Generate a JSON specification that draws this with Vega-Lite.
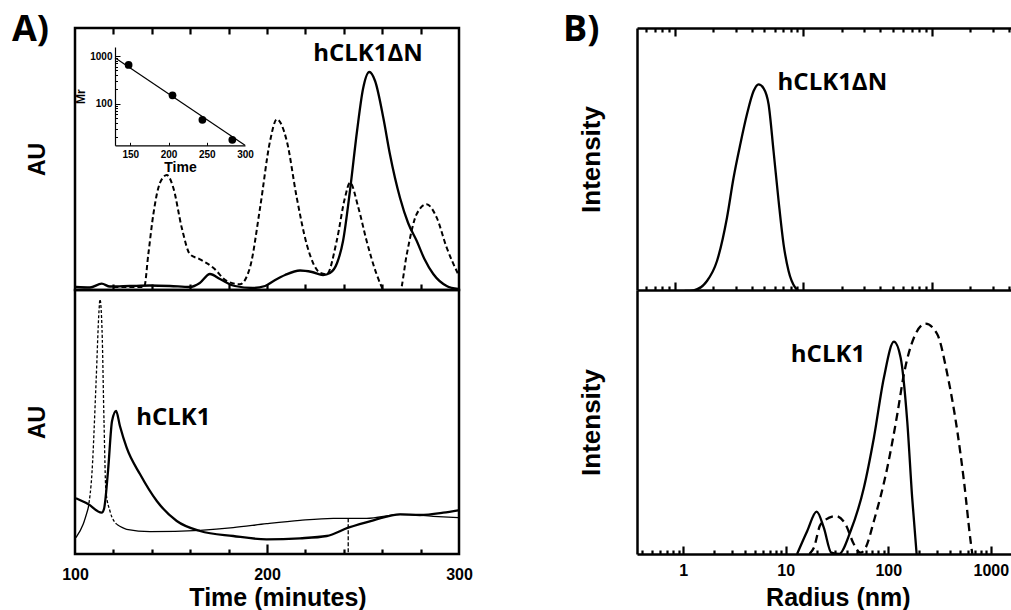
{
  "$schema": "https://vega.github.io/schema/vega-lite/v6.json",
  "background": "white",
  "padding": {"left": 10, "top": 10, "right": 0, "bottom": 0},
  "columns": 2,
  "spacing": {"row": 0, "column": 178},
  "bounds": "flush",
  "config": {
    "view": {"stroke": null},
    "axis": {
      "grid": false, "labelFlush": false, "labelOverlap": false,
      "labelFont": "Liberation Sans", "labelFontWeight": "bold", "labelColor": "black",
      "titleFont": "Liberation Sans", "titleFontWeight": "bold", "titleColor": "black",
      "tickColor": "black", "tickOpacity": 1, "domainColor": "black", "tickWidth": 2.2, "domainWidth": 2.5
    }
  },
  "datasets": {
    "aTopSolid": [
      {"t":100.5,"v":2},{"t":107.8,"v":1.5},{"t":113.9,"v":5.3},{"t":118.2,"v":2.5},{"t":128.6,"v":3},{"t":139,"v":3.5},{"t":149.5,"v":3},{"t":159.9,"v":2},{"t":165,"v":6},{"t":170.3,"v":15},{"t":175.5,"v":10},{"t":183.3,"v":3},{"t":192.7,"v":1},{"t":199,"v":3},{"t":203,"v":7.5},{"t":209.4,"v":14},{"t":217.2,"v":18.5},{"t":223.4,"v":17},{"t":229.2,"v":14},{"t":232.8,"v":16},{"t":236.5,"v":26},{"t":239.6,"v":48},{"t":243.2,"v":98},{"t":246.9,"v":158},{"t":250,"v":200},{"t":253.3,"v":217},{"t":256.3,"v":208},{"t":260.6,"v":171},{"t":264,"v":135},{"t":269.3,"v":91},{"t":273.5,"v":66},{"t":278,"v":48},{"t":282,"v":30},{"t":286.6,"v":15},{"t":293.6,"v":3},{"t":299.5,"v":0}
    ],
    "aTopDash": [
      {"t":120,"v":2},{"t":128.6,"v":2},{"t":136,"v":2},{"t":138.2,"v":35},{"t":140.8,"v":74.7},{"t":144.3,"v":106.3},{"t":147.8,"v":114},{"t":151.2,"v":101.3},{"t":155.6,"v":61.3},{"t":159.9,"v":34.7},{"t":165.1,"v":29.7},{"t":172,"v":21.3},{"t":179,"v":8},{"t":185.9,"v":4.7},{"t":191.1,"v":21.3},{"t":196.4,"v":81.3},{"t":201.6,"v":148},{"t":205.1,"v":169.7},{"t":210.3,"v":148},{"t":215.5,"v":91.3},{"t":220.7,"v":44.7},{"t":227.6,"v":16.3},{"t":231.1,"v":14.7},{"t":236.3,"v":48},{"t":240.6,"v":91.3},{"t":243.2,"v":106.3},{"t":247.6,"v":81.3},{"t":251.9,"v":48},{"t":257.1,"v":14.7},{"t":262.3,"v":-7},{"t":265.6,"v":-12},{"t":269.3,"v":-4},{"t":272.8,"v":34.7},{"t":277.9,"v":74.7},{"t":283.1,"v":84.7},{"t":288.4,"v":71.3},{"t":293.6,"v":41.3},{"t":299.6,"v":14.7}
    ],
    "insetFit": [{"t":130,"mr":920},{"t":300,"mr":13.5}],
    "insetPts": [{"t":147.8,"mr":650},{"t":205.2,"mr":150},{"t":244.3,"mr":46},{"t":283.4,"mr":17.5}],
    "aTopLabel": [{"t":252.6,"v":235,"label":"hCLK1ΔN"}],
    "aBotSolid": [
      {"t":100.5,"v":55.7},{"t":106.8,"v":50},{"t":113.9,"v":41.3},{"t":115.1,"v":45},{"t":117.2,"v":83},{"t":119.3,"v":133},{"t":121.4,"v":143},{"t":123.4,"v":128},{"t":126.9,"v":106.3},{"t":133.9,"v":79.7},{"t":142.6,"v":53},{"t":153,"v":33},{"t":165.1,"v":23},{"t":182.4,"v":18},{"t":199.8,"v":14.7},{"t":217.2,"v":15.7},{"t":231.1,"v":18},{"t":242.3,"v":26.3},{"t":255.4,"v":33.7},{"t":269.3,"v":39.7},{"t":279.7,"v":39},{"t":291.8,"v":41.3},{"t":299.6,"v":43.7}
    ],
    "aBotThinA": [{"t":100.5,"v":16.3},{"t":104.3,"v":30},{"t":106.9,"v":46}],
    "aBotThinB": [
      {"t":121.7,"v":29.7},{"t":126.9,"v":24.7},{"t":139.1,"v":22.3},{"t":165.1,"v":23.7},{"t":182.4,"v":26.3},{"t":199.8,"v":30.3},{"t":217.2,"v":33.7},{"t":234.5,"v":35.7},{"t":242.3,"v":35.7},{"t":251.9,"v":35.7},{"t":269.3,"v":39.7},{"t":286.6,"v":37.7},{"t":299.6,"v":36.3}
    ],
    "aBotSpike": [
      {"t":106.9,"v":46},{"t":108.9,"v":83},{"t":111,"v":173},{"t":112.5,"v":243},{"t":113,"v":254.7},{"t":114.1,"v":223},{"t":115.1,"v":133},{"t":116.1,"v":63},{"t":118.2,"v":43},{"t":121.7,"v":29.7}
    ],
    "aBotDrop": [{"t":242.3,"v":35.7},{"t":242.3,"v":0}],
    "aBotLabel": [{"t":151.2,"v":136.3,"label":"hCLK1"}],
    "bTop": [
      {"r":1.2,"v":0},{"r":1.406,"v":0.7},{"r":1.787,"v":10},{"r":2.138,"v":30},{"r":2.557,"v":73.3},{"r":2.878,"v":113.3},{"r":3.246,"v":146.7},{"r":3.658,"v":176.7},{"r":4.12,"v":200},{"r":4.505,"v":206.7},{"r":4.93,"v":202.7},{"r":5.39,"v":186.7},{"r":5.89,"v":140},{"r":6.45,"v":90},{"r":7.05,"v":46.7},{"r":7.71,"v":20},{"r":8.69,"v":3.3},{"r":9.22,"v":0}
    ],
    "bTopLabel": [{"r":16.9,"v":208.3,"label":"hCLK1ΔN"}],
    "bBotSolid": [
      {"r":12.9,"v":0},{"r":16.2,"v":23},{"r":20,"v":42.3},{"r":23.5,"v":26.3},{"r":27.8,"v":1.3},{"r":33,"v":0},{"r":42.9,"v":23},{"r":57.8,"v":66.3},{"r":72.4,"v":116.3},{"r":90.6,"v":176.3},{"r":113.5,"v":212.3},{"r":132,"v":196.3},{"r":153,"v":133},{"r":171,"v":56.3},{"r":189,"v":0}
    ],
    "bBotDash": [
      {"r":17,"v":0},{"r":18.8,"v":6.3},{"r":21.9,"v":29.7},{"r":30.6,"v":38},{"r":38.3,"v":29.7},{"r":46.2,"v":9.7},{"r":53.7,"v":1.3},{"r":60.1,"v":6.3},{"r":72.4,"v":33},{"r":97.8,"v":86.3},{"r":122.4,"v":139.7},{"r":142,"v":179.7},{"r":177.8,"v":216.3},{"r":231,"v":230.3},{"r":300.6,"v":219.7},{"r":376.6,"v":179.7},{"r":471,"v":123},{"r":547,"v":73},{"r":635,"v":13},{"r":660,"v":0}
    ],
    "bBotLabel": [{"r":25.8,"v":199,"label":"hCLK1"}]
  },
  "concat": [
    {
      "width": 384, "height": 262,
      "view": {"stroke": "black", "strokeWidth": 2.5},
      "title": {"text": "A)", "anchor": "start", "frame": "group", "font": "Open Sans", "fontSize": 36, "fontWeight": "bold", "color": "black", "dx": -63, "dy": 26, "offset": 4},
      "layer": [
        {
          "data": {"name": "aTopSolid"},
          "mark": {"type": "line", "color": "black", "strokeWidth": 2.3, "clip": true, "interpolate": "monotone"},
          "encoding": {
            "x": {"field": "t", "type": "quantitative", "scale": {"domain": [100, 300], "nice": false, "zero": false},
                  "axis": {"orient": "top", "offset": -262, "values": [120,140,160,180,200,220,240,260,280], "ticks": true, "tickSize": 6, "zindex": 2, "labels": false, "domain": false, "title": null}},
            "y": {"field": "v", "type": "quantitative", "scale": {"domain": [-1, 261], "nice": false, "zero": false},
                  "axis": {"orient": "left", "ticks": false, "labels": false, "domain": false, "title": "AU", "titleFontSize": 23, "titlePadding": 26}}
          }
        },
        {
          "data": {"name": "aTopDash"},
          "mark": {"type": "line", "color": "black", "strokeWidth": 2, "strokeDash": [5, 3], "clip": true, "interpolate": "monotone"},
          "encoding": {
            "x": {"field": "t", "type": "quantitative", "scale": {"domain": [100, 300], "nice": false, "zero": false},
                  "axis": {"orient": "bottom", "offset": -262, "values": [120,140,160,180,200,220,240,260,280], "ticks": true, "tickSize": 6, "zindex": 2, "labels": false, "domain": false, "title": null}},
            "y": {"field": "v", "type": "quantitative", "scale": {"domain": [-1, 261], "nice": false, "zero": false}, "axis": null}
          }
        },
        {
          "data": {"name": "insetFit"},
          "mark": {"type": "line", "color": "black", "strokeWidth": 1.2},
          "encoding": {
            "x": {"field": "t", "type": "quantitative", "scale": {"domain": [130, 300], "range": [40, 170], "nice": false, "zero": false},
                  "axis": {"orient": "bottom", "offset": -144.7, "values": [150, 200, 250, 300], "ticks": false, "labelFontSize": 10, "labelPadding": 4, "format": "d", "domain": true, "domainWidth": 1.2, "title": "Time", "titleFontSize": 14, "titlePadding": 1}},
            "y": {"field": "mr", "type": "quantitative", "scale": {"type": "log", "domain": [13.4, 1550], "range": [117.3, 19], "nice": false},
                  "axis": {"orient": "left", "offset": -40, "values": [100, 1000], "ticks": false, "labelFontSize": 10, "labelPadding": 3, "format": "d", "domain": true, "domainWidth": 1.2, "title": "Mr", "titleFontSize": 12, "titlePadding": 2}}
          }
        },
        {
          "data": {"name": "insetPts"},
          "mark": {"type": "point", "filled": true, "color": "black", "size": 60, "opacity": 1},
          "encoding": {
            "x": {"field": "t", "type": "quantitative", "scale": {"domain": [130, 300], "range": [40, 170], "nice": false, "zero": false},
                  "axis": {"orient": "top", "offset": -117.3, "values": [150, 200, 250], "ticks": true, "tickSize": 3, "tickWidth": 1, "zindex": 2, "labels": false, "domain": false, "title": null}},
            "y": {"field": "mr", "type": "quantitative", "scale": {"type": "log", "domain": [13.4, 1550], "range": [117.3, 19], "nice": false},
                  "axis": {"orient": "right", "offset": -344, "values": [100, 1000], "ticks": true, "tickSize": 5, "tickWidth": 1, "zindex": 2, "labels": false, "domain": false, "title": null}}
          }
        },
        {
          "data": {"name": "insetPts"},
          "mark": {"type": "point", "opacity": 0},
          "encoding": {
            "x": {"field": "t", "type": "quantitative", "scale": {"domain": [130, 300], "range": [40, 170], "nice": false, "zero": false}, "axis": null},
            "y": {"field": "mr", "type": "quantitative", "scale": {"type": "log", "domain": [13.4, 1550], "range": [117.3, 19], "nice": false},
                  "axis": {"orient": "right", "offset": -344, "values": [20,30,40,50,60,70,80,90,200,300,400,500,600,700,800,900], "ticks": true, "tickSize": 2.5, "tickWidth": 1, "zindex": 2, "labels": false, "domain": false, "title": null}}
          }
        },
        {
          "data": {"name": "aTopLabel"},
          "mark": {"type": "text", "font": "Open Sans", "fontSize": 24, "fontWeight": "bold", "color": "black"},
          "encoding": {
            "x": {"field": "t", "type": "quantitative", "scale": {"domain": [100, 300], "nice": false, "zero": false}, "axis": null},
            "y": {"field": "v", "type": "quantitative", "scale": {"domain": [-1, 261], "nice": false, "zero": false}, "axis": null},
            "text": {"field": "label"}
          }
        }
      ],
      "resolve": {"scale": {"x": "independent", "y": "independent"}}
    },
    {
      "width": 374, "height": 262,
      "view": {"stroke": null},
      "title": {"text": "B)", "anchor": "start", "frame": "group", "font": "Open Sans", "fontSize": 36, "fontWeight": "bold", "color": "black", "dx": -74, "dy": 26, "offset": 4},
      "layer": [
        {
          "data": {"name": "bTop"},
          "mark": {"type": "line", "color": "black", "strokeWidth": 2.3, "clip": true, "interpolate": "monotone"},
          "encoding": {
            "x": {"field": "r", "type": "quantitative", "scale": {"type": "log", "domain": [0.51, 415], "nice": false},
                  "axis": {"orient": "top", "offset": -262, "values": [0.6,0.7,0.8,0.9,2,3,4,5,6,7,8,9,20,30,40,50,60,70,80,90,200,300,400], "ticks": true, "tickSize": 4, "zindex": 2, "labels": false, "domain": true, "title": null}},
            "y": {"field": "v", "type": "quantitative", "scale": {"domain": [1, 263], "nice": false, "zero": false},
                  "axis": {"orient": "left", "ticks": false, "labels": false, "domain": true, "title": "Intensity", "titleFontSize": 26, "titlePadding": 33}}
          }
        },
        {
          "data": {"name": "bTop"},
          "mark": {"type": "line", "strokeOpacity": 0},
          "encoding": {
            "x": {"field": "r", "type": "quantitative", "axis": {"orient": "top", "offset": -262, "values": [1, 10, 100], "ticks": true, "tickSize": 8, "zindex": 2, "labels": false, "domain": false, "title": null}},
            "y": {"field": "v", "type": "quantitative", "axis": null}
          }
        },
        {
          "data": {"name": "bTop"},
          "mark": {"type": "line", "strokeOpacity": 0},
          "encoding": {
            "x": {"field": "r", "type": "quantitative", "axis": {"orient": "bottom", "offset": -262, "values": [0.6,0.7,0.8,0.9,2,3,4,5,6,7,8,9,20,30,40,50,60,70,80,90,200,300,400], "ticks": true, "tickSize": 4, "zindex": 2, "labels": false, "domain": true, "title": null}},
            "y": {"field": "v", "type": "quantitative", "axis": null}
          }
        },
        {
          "data": {"name": "bTop"},
          "mark": {"type": "line", "strokeOpacity": 0},
          "encoding": {
            "x": {"field": "r", "type": "quantitative", "axis": {"orient": "bottom", "offset": -262, "values": [1, 10, 100], "ticks": true, "tickSize": 8, "zindex": 2, "labels": false, "domain": false, "title": null}},
            "y": {"field": "v", "type": "quantitative", "axis": null}
          }
        },
        {
          "data": {"name": "bTopLabel"},
          "mark": {"type": "text", "font": "Open Sans", "fontSize": 24, "fontWeight": "bold", "color": "black"},
          "encoding": {
            "x": {"field": "r", "type": "quantitative", "axis": null},
            "y": {"field": "v", "type": "quantitative", "axis": null},
            "text": {"field": "label"}
          }
        }
      ],
      "resolve": {"axis": {"x": "independent", "y": "independent"}}
    },
    {
      "width": 384, "height": 264,
      "view": {"stroke": "black", "strokeWidth": 2.5},
      "layer": [
        {
          "data": {"name": "aBotSolid"},
          "mark": {"type": "line", "color": "black", "strokeWidth": 2.3, "clip": true, "interpolate": "monotone"},
          "encoding": {
            "x": {"field": "t", "type": "quantitative", "scale": {"domain": [100, 300], "nice": false, "zero": false},
                  "axis": {"orient": "top", "offset": -264, "values": [120,140,160,180,220,240,260,280], "ticks": true, "tickSize": 5, "zindex": 2, "labels": false, "domain": false, "title": null}},
            "y": {"field": "v", "type": "quantitative", "scale": {"domain": [0, 264], "nice": false, "zero": false},
                  "axis": {"orient": "left", "ticks": false, "labels": false, "domain": false, "title": "AU", "titleFontSize": 23, "titlePadding": 26}}
          }
        },
        {
          "data": {"name": "aBotThinB"},
          "mark": {"type": "line", "color": "black", "strokeWidth": 1.3, "clip": true, "interpolate": "monotone"},
          "encoding": {
            "x": {"field": "t", "type": "quantitative",
                  "axis": {"orient": "top", "offset": -264, "values": [200], "ticks": true, "tickSize": 10, "zindex": 2, "labels": false, "domain": false, "title": null}},
            "y": {"field": "v", "type": "quantitative", "axis": null}
          }
        },
        {
          "data": {"name": "aBotThinA"},
          "mark": {"type": "line", "color": "black", "strokeWidth": 1.3, "clip": true, "interpolate": "monotone"},
          "encoding": {
            "x": {"field": "t", "type": "quantitative",
                  "axis": {"orient": "bottom", "values": [100, 200, 300], "ticks": false, "labels": true, "labelFontSize": 16, "labelPadding": 12, "format": "d", "domain": false, "title": "Time (minutes)", "titleFontSize": 25, "titleX": 202.5, "titleY": 31}},
            "y": {"field": "v", "type": "quantitative", "axis": null}
          }
        },
        {
          "data": {"name": "aBotSpike"},
          "mark": {"type": "line", "color": "black", "strokeWidth": 1.3, "strokeDash": [3, 2], "clip": true, "interpolate": "monotone"},
          "encoding": {
            "x": {"field": "t", "type": "quantitative", "axis": null},
            "y": {"field": "v", "type": "quantitative", "axis": null}
          }
        },
        {
          "data": {"name": "aBotDrop"},
          "mark": {"type": "line", "color": "black", "strokeWidth": 1.3, "strokeDash": [4, 2], "clip": true},
          "encoding": {
            "x": {"field": "t", "type": "quantitative", "axis": null},
            "y": {"field": "v", "type": "quantitative", "axis": null}
          }
        },
        {
          "data": {"name": "aBotLabel"},
          "mark": {"type": "text", "font": "Open Sans", "fontSize": 24, "fontWeight": "bold", "color": "black"},
          "encoding": {
            "x": {"field": "t", "type": "quantitative", "axis": null},
            "y": {"field": "v", "type": "quantitative", "axis": null},
            "text": {"field": "label"}
          }
        }
      ],
      "resolve": {"axis": {"x": "independent", "y": "independent"}}
    },
    {
      "width": 374, "height": 264,
      "view": {"stroke": null},
      "layer": [
        {
          "data": {"name": "bBotSolid"},
          "mark": {"type": "line", "color": "black", "strokeWidth": 2.3, "clip": true, "interpolate": "monotone"},
          "encoding": {
            "x": {"field": "r", "type": "quantitative", "scale": {"type": "log", "domain": [0.354, 1574], "nice": false},
                  "axis": {"orient": "top", "offset": -264, "values": [0.4,0.5,0.6,0.7,0.8,0.9,2,3,4,5,6,7,8,9,20,30,40,50,60,70,80,90,200,300,400,500,600,700,800,900], "ticks": true, "tickSize": 4, "zindex": 2, "labels": false, "domain": true, "title": null}},
            "y": {"field": "v", "type": "quantitative", "scale": {"domain": [0, 264], "nice": false, "zero": false},
                  "axis": {"orient": "left", "ticks": false, "labels": false, "domain": true, "title": "Intensity", "titleFontSize": 26, "titlePadding": 33}}
          }
        },
        {
          "data": {"name": "bBotDash"},
          "mark": {"type": "line", "color": "black", "strokeWidth": 2.3, "strokeDash": [8, 5], "clip": true, "interpolate": "monotone"},
          "encoding": {
            "x": {"field": "r", "type": "quantitative",
                  "axis": {"orient": "top", "offset": -264, "values": [1, 10, 100, 1000], "ticks": true, "tickSize": 8, "zindex": 2, "labels": false, "domain": false, "title": null}},
            "y": {"field": "v", "type": "quantitative", "axis": null}
          }
        },
        {
          "data": {"name": "bBotLabel"},
          "mark": {"type": "text", "font": "Open Sans", "fontSize": 24, "fontWeight": "bold", "color": "black"},
          "encoding": {
            "x": {"field": "r", "type": "quantitative",
                  "axis": {"orient": "bottom", "values": [1, 10, 100, 1000], "ticks": false, "labels": true, "labelFontSize": 16, "labelPadding": 8, "format": "d", "domain": false, "title": "Radius (nm)", "titleFontSize": 25, "titleX": 200.8, "titleY": 31}},
            "y": {"field": "v", "type": "quantitative", "axis": null},
            "text": {"field": "label"}
          }
        }
      ],
      "resolve": {"axis": {"x": "independent", "y": "independent"}}
    }
  ]
}
